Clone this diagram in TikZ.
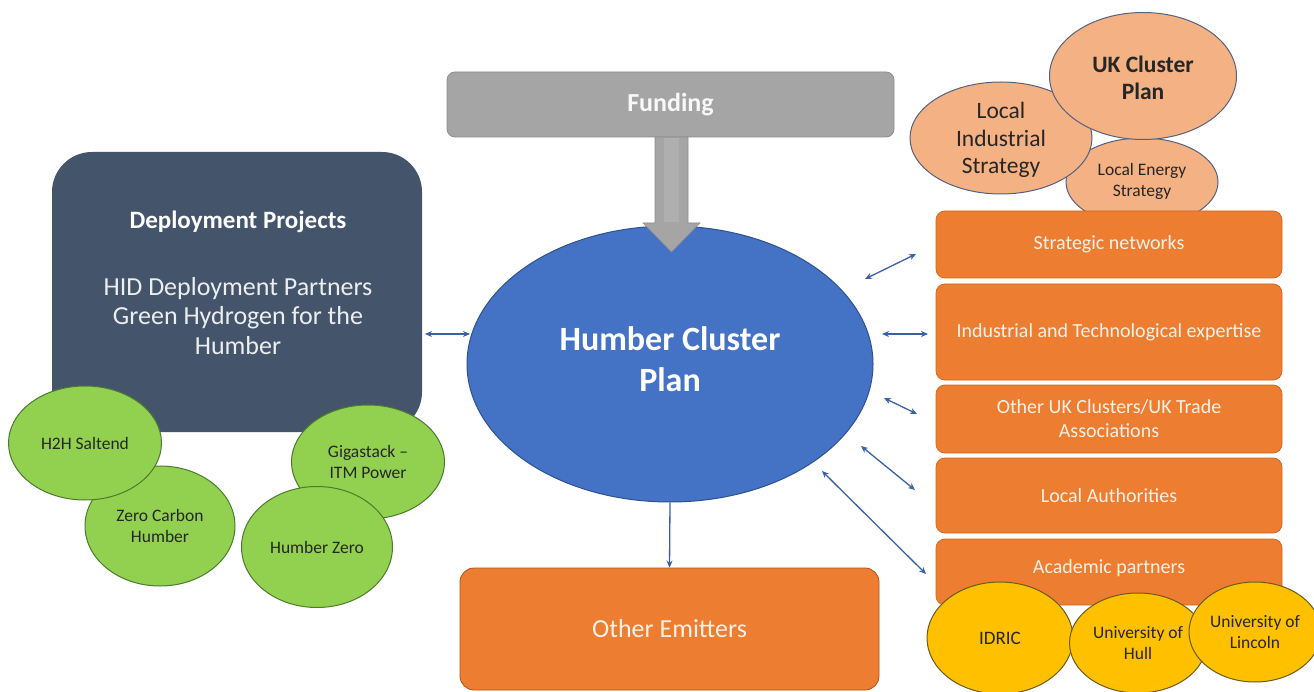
\documentclass[tikz,border=0pt]{standalone}
\usepackage{fontspec}
\setmainfont{Carlito}
\usetikzlibrary{shapes.geometric,arrows.meta}
\definecolor{hblue}{HTML}{4472C4}
\definecolor{hblueb}{HTML}{2F528F}
\definecolor{navy}{HTML}{44546A}
\definecolor{orng}{HTML}{ED7D31}
\definecolor{orngb}{HTML}{D2691E}
\definecolor{peach}{HTML}{F4B183}
\definecolor{peachb}{HTML}{55627F}
\definecolor{grn}{HTML}{92D050}
\definecolor{grnb}{HTML}{4E7A2E}
\definecolor{yel}{HTML}{FFC000}
\definecolor{yelb}{HTML}{6B5A1E}
\definecolor{gry}{HTML}{A5A5A5}
\definecolor{gryb}{HTML}{8C8C8C}
\definecolor{ltxt}{HTML}{FDF1E8}
\newcommand{\fs}[2]{\fontsize{#1}{#2}\selectfont}
\begin{document}
\begin{tikzpicture}[x=1pt,y=-1pt,
  obox/.style={rectangle,rounded corners=9pt,fill=orng,draw=orngb,line width=0.8pt,
    minimum width=346pt,text=ltxt,align=center,inner sep=0pt,font=\fs{20}{24}},
  gell/.style={ellipse,fill=grn,draw=grnb,line width=1pt,inner sep=0pt,align=center,text=black!85,font=\fs{17.5}{20.5}},
  pell/.style={ellipse,fill=peach,draw=peachb,line width=1pt,inner sep=0pt,align=center,text=black!85},
  yell/.style={ellipse,fill=yel,draw=yelb,line width=1pt,inner sep=0pt,align=center,text=black!85,font=\fs{17.5}{21}},
  link/.style={draw=hblue!85!black,line width=1.3pt,{Stealth[length=7pt,width=6pt]}-{Stealth[length=7pt,width=6pt]}},
  onelink/.style={draw=hblue!85!black,line width=1.3pt,-{Stealth[length=7pt,width=6pt]}},
  lbl/.style={inner sep=0pt,align=center}
]
\useasboundingbox (0,0) rectangle (1314,692);
\fill[white] (0,0) rectangle (1314,692);

% Funding
\node[rectangle,rounded corners=8pt,fill=gry,draw=gryb,line width=0.8pt,minimum width=447pt,minimum height=65pt,
  text=white!92!gry,font=\fs{26}{30}\bfseries] (funding) at (670.5,104.5) {Funding};

% Deployment box
\node[rectangle,rounded corners=40pt,fill=navy,minimum width=370pt,minimum height=280pt] (dep) at (237,292) {};
\node[lbl,text=white,font=\fs{25}{30}\bfseries] (deptitle) at (238,222) {Deployment Projects};
\node[lbl,text=white!90!navy,font=\fs{26}{29.5}] (deptext) at (238,316) {HID Deployment Partners\\Green Hydrogen for the\\Humber};

% Central ellipse
\node[ellipse,fill=hblue,draw=hblueb,line width=1pt,minimum width=406pt,minimum height=276pt,inner sep=0pt] (hcp) at (670,364) {};
\node[lbl,text=white,font=\fs{34}{41}\bfseries] (hcptext) at (670,359) {Humber Cluster\\Plan};

% Funding arrow
\fill[gry,draw=gryb,line width=0.6pt] (655,137) -- (688,137) -- (688,223) -- (700,223) -- (671.5,252) -- (643,223) -- (655,223) -- cycle;
\fill[white,opacity=0.12] (664,138) rectangle (679,222);

% Green ellipses
\node[gell,minimum width=150pt,minimum height=120pt] (zch) at (160,526) {Zero Carbon\\Humber};
\node[gell,minimum width=153pt,minimum height=114pt] (h2h) at (85,443) {H2H Saltend};
\node[gell,minimum width=153pt,minimum height=114pt] (giga) at (368,462) {Gigastack --\\ITM Power};
\node[gell,minimum width=151pt,minimum height=121pt] (hz) at (317,547) {Humber Zero};

% Peach ellipses
\node[pell,minimum width=152pt,minimum height=88pt] (les) at (1142,182) {};
\node[lbl,text=black!85,font=\fs{17.5}{21}] (lestext) at (1142,181) {Local Energy\\Strategy};
\node[pell,minimum width=182pt,minimum height=112pt] (lis) at (1001,138) {};
\node[lbl,text=black!85,font=\fs{23.5}{27.5}] (listext) at (1001,140) {Local\\Industrial\\Strategy};
\node[pell,minimum width=187pt,minimum height=127pt] (ukcp) at (1143,76) {};
\node[lbl,text=black!85,font=\fs{23.5}{27.5}\bfseries] (ukcptext) at (1143,78) {UK Cluster\\Plan};

% Orange boxes
\node[obox,minimum height=67pt] (sn) at (1109,244.5) {Strategic networks};
\node[obox,minimum height=96pt] (ite) at (1109,332) {Industrial and Technological expertise};
\node[obox,minimum height=68pt] (ouk) at (1109,419) {Other UK Clusters/UK Trade\\Associations};
\node[obox,minimum height=75pt] (la) at (1109,495.5) {Local Authorities};
\node[obox,minimum height=66pt] (ap) at (1109,572) {};
\node[lbl,text=ltxt,font=\fs{20}{24}] (aptext) at (1109,568) {Academic partners};

% Yellow ellipses
\node[yell,minimum width=146pt,minimum height=112pt,font=\fs{19}{22}] (idric) at (1000,638) {IDRIC};
\node[yell,minimum width=137pt,minimum height=100pt] (hull) at (1138,643) {University of\\Hull};
\node[yell,minimum width=132pt,minimum height=100pt] (linc) at (1255,632) {University of\\Lincoln};

% Other emitters
\node[rectangle,rounded corners=14pt,fill=orng,draw=orngb!80!black,line width=0.8pt,minimum width=419pt,minimum height=122pt,
  text=ltxt,font=\fs{26}{30}] (oe) at (669.5,629) {Other Emitters};

% Connector end points
\coordinate (d1) at (425,334);  \coordinate (h1) at (470,334);
\coordinate (h2) at (865,279);  \coordinate (s2) at (916,254);
\coordinate (h3) at (882,334);  \coordinate (s3) at (928,334);
\coordinate (h4) at (884,398);  \coordinate (s4) at (917,414);
\coordinate (h5) at (861,446);  \coordinate (s5) at (915,490);
\coordinate (h6) at (822,471);  \coordinate (s6) at (926,574);

\draw[link] (d1) -- (h1);
\draw[link] (h2) -- (s2);
\draw[link] (h3) -- (s3);
\draw[link] (h4) -- (s4);
\draw[link] (h5) -- (s5);
\draw[link] (h6) -- (s6);
\draw[onelink] (hcp.south) -- (oe.north);
\end{tikzpicture}
\end{document}
